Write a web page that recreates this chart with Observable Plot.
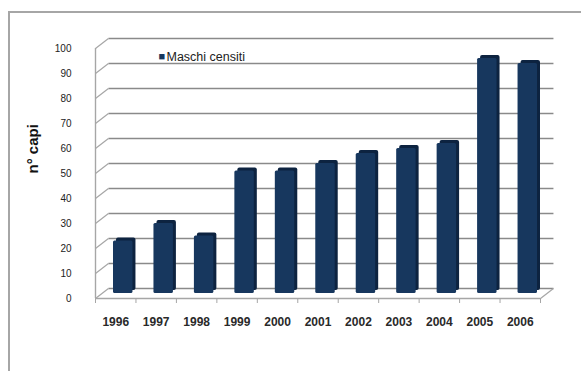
<!DOCTYPE html>
<html>
<head>
<meta charset="utf-8">
<script src="https://cdn.jsdelivr.net/npm/d3@7"></script>
<script src="https://cdn.jsdelivr.net/npm/@observablehq/plot@0.6"></script>
<style>
  html, body { margin: 0; padding: 0; background: #ffffff; }
  #wrap { position: relative; width: 581px; height: 371px; overflow: hidden; }
  #wrap .border {
    position: absolute; left: 8px; top: 11px; width: 600px; height: 400px;
    border-top: 2px solid #a6a6a6; border-left: 2px solid #a6a6a6;
    pointer-events: none;
  }
  #wrap svg { position: absolute; left: 0; top: 0; }
</style>
</head>
<body>
<div id="wrap"><div class="border"></div></div>
<script>
// Male honeybee counts per year
const years = ["1996", "1997", "1998", "1999", "2000", "2001", "2002", "2003", "2004", "2005", "2006"];
const maschi = [21, 28, 23, 49, 49, 52, 56, 58, 60, 94, 92];
const yTicks = [0, 10, 20, 30, 40, 50, 60, 70, 80, 90, 100];
const seriesName = "Maschi censiti";

const data = years.map((year, i) => ({year, i, value: maschi[i]}));

// depth of the 3D box, in category / value units
const DEPTH_X = 0.32;
const DEPTH_Y = 4;

const gridColor = "#8a8a8a";
const axisColor = "#a6a6a6";
const barFront = "#17375e";
const barSide = "#0d2340";

const chart = Plot.plot({
  width: 581,
  height: 371,
  marginTop: 48,
  marginBottom: 73,
  marginLeft: 95,
  marginRight: 41,
  x: {domain: [0, years.length]},
  y: {domain: [0, 100]},
  style: {fontFamily: "'Liberation Sans', Arial, sans-serif", background: "transparent", color: "#222"},
  marks: [
    // back wall gridlines
    Plot.link(yTicks, {
      x1: DEPTH_X, x2: years.length + DEPTH_X,
      y1: d => d + DEPTH_Y, y2: d => d + DEPTH_Y,
      stroke: gridColor, strokeWidth: 1.6
    }),
    // side wall: diagonal ticks from the front axis to the back wall
    Plot.link(yTicks, {
      x1: 0, x2: DEPTH_X,
      y1: d => d, y2: d => d + DEPTH_Y,
      stroke: axisColor, strokeWidth: 1.2
    }),
    // right edge of the floor
    Plot.link([0], {
      x1: years.length, x2: years.length + DEPTH_X,
      y1: 0, y2: DEPTH_Y,
      stroke: axisColor, strokeWidth: 1.2
    }),
    // front value axis and floor edge
    Plot.ruleX([0], {y1: 0, y2: 100, stroke: axisColor, strokeWidth: 1.4}),
    Plot.ruleY([0], {stroke: axisColor, strokeWidth: 1.4}),
    // category boundary ticks
    Plot.axisX(d3.range(years.length + 1), {
      tickSize: 5, tickFormat: () => "", stroke: axisColor, label: null
    }),
    // bars: shaded side/top, then front face
    Plot.rectY(data, {
      x1: "i", x2: d => d.i + 1, y: "value",
      insetLeft: 10.5, insetRight: 10.5,
      dx: 10.5, dy: -8, rx: 2,
      fill: barSide
    }),
    Plot.rectY(data, {
      x1: "i", x2: d => d.i + 1, y: "value",
      insetLeft: 10.5, insetRight: 10.5,
      dx: 7.5, dy: -5, rx: 1.5,
      fill: barFront
    }),
    // value axis labels
    Plot.axisY(yTicks, {
      tickSize: 0, tickPadding: 24, fontSize: 10, label: null
    }),
    // year labels
    Plot.axisX(years.map((_, i) => i + 0.5), {
      tickSize: 0, tickPadding: 19, fontSize: 12, fontWeight: "bold",
      tickFormat: d => years[Math.round(d - 0.5)], label: null, fill: "#2a2a2a"
    }),
    // axis title
    Plot.text(["n° capi"], {
      frameAnchor: "left", dx: -62, rotate: -90,
      fontSize: 15, fontWeight: "bold", fill: "#111"
    }),
    // legend
    Plot.text(["■"], {
      frameAnchor: "top-left", dx: 63, dy: 4,
      fontSize: 11, fill: barFront
    }),
    Plot.text([seriesName], {
      frameAnchor: "top-left", dx: 71, dy: 4, textAnchor: "start",
      fontSize: 12.5, fill: "#222"
    })
  ]
});

document.getElementById("wrap").appendChild(chart);
</script>
</body>
</html>
